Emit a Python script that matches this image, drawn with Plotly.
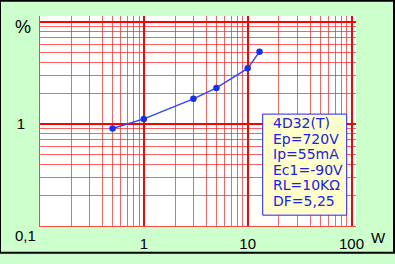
import plotly.graph_objects as go

# data
power_w = [0.5, 1, 3, 5, 10, 13]
distortion_pct = [0.90, 1.12, 1.76, 2.25, 3.5, 5.1]

x_tick_vals = [1, 10, 100]
x_tick_text = ["1", "10", "100"]
y_tick_vals = [1, 10]
y_tick_text = ["1", ""]
minor_digits = [2, 3, 4, 5, 6, 7, 8, 9]
x_decades = [0.1, 1, 10]
y_decades = [0.1, 1]

info_lines = ["4D32(T)", "Ep=720V", "Ip=55mA", "Ec1=-90V", "RL=10KΩ", "DF=5,25"]

# layout geometry (pixels)
W, H = 395, 264
L, T, R, B = 40, 16, 356, 235
PW, PH = R - L, B - T


def px(x):
    return (x - L) / PW


def py(y):
    return (B - y) / PH


x_minor = [d * m for d in x_decades for m in minor_digits]
y_minor = [d * m for d in y_decades for m in minor_digits]

fig = go.Figure()
fig.add_trace(go.Scatter(
    x=power_w, y=distortion_pct, mode="lines+markers",
    line=dict(color="#3344ff", width=1.5),
    marker=dict(color="#1133ee", size=6.5),
    hoverinfo="skip",
))

axis_font = dict(family="Liberation Sans, Arial, sans-serif", size=15, color="black")

fig.update_xaxes(
    type="log", range=[-1, 2.043],
    tickmode="array", tickvals=x_tick_vals, ticktext=x_tick_text,
    showgrid=True, gridcolor="#ff0000", gridwidth=1.5,
    minor=dict(tickmode="array", tickvals=x_minor, showgrid=True,
               gridcolor="rgba(255,30,30,0.7)", gridwidth=1, ticks=""),
    ticks="", ticklabelstandoff=4, tickfont=axis_font,
    showline=True, linecolor="rgba(255,30,30,0.8)", linewidth=1, zeroline=False,
    fixedrange=True,
)
fig.update_yaxes(
    type="log", range=[-1.0, 1.057],
    tickmode="array", tickvals=y_tick_vals, ticktext=y_tick_text,
    showgrid=True, gridcolor="#ff0000", gridwidth=1.5,
    minor=dict(tickmode="array", tickvals=y_minor, showgrid=True,
               gridcolor="rgba(255,30,30,0.7)", gridwidth=1, ticks=""),
    ticks="", ticklabelstandoff=11, tickfont=axis_font,
    showline=True, linecolor="rgba(255,30,30,0.8)", linewidth=1, zeroline=False,
    fixedrange=True,
)

shapes = [
    # info box
    dict(type="rect", xref="paper", yref="paper",
         x0=px(262.7), x1=px(346.7), y0=py(223.7), y1=py(118.3),
         fillcolor="#ffffcc", line=dict(color="#2020ff", width=1), layer="above"),
    # outer border
    dict(type="rect", xref="paper", yref="paper",
         x0=px(0), x1=px(394), y0=py(263), y1=py(0),
         line=dict(color="black", width=2), fillcolor="rgba(0,0,0,0)"),
]

annotations = [
    dict(text="0,1", x=px(25), y=py(245), xref="paper", yref="paper",
         showarrow=False, font=axis_font, xanchor="center", yanchor="middle"),
    dict(text="%", x=px(23.3), y=py(27.5), xref="paper", yref="paper",
         showarrow=False, font=dict(family="Liberation Sans, Arial, sans-serif", size=18, color="black"),
         xanchor="center", yanchor="middle"),
    dict(text="W", x=px(378.3), y=py(246.5), xref="paper", yref="paper",
         showarrow=False, font=axis_font, xanchor="center", yanchor="middle"),
]
for i, line in enumerate(info_lines):
    annotations.append(dict(
        text=line, x=px(270.5), y=py(128 + 16.1 * i), xref="paper", yref="paper",
        showarrow=False, xanchor="left", yanchor="middle",
        font=dict(family="DejaVu Sans, sans-serif", size=14, color="#2020e0"),
    ))

fig.update_layout(
    width=W, height=H, autosize=False,
    margin=dict(l=L, r=W - R, t=T, b=H - B, pad=0),
    paper_bgcolor="#ccffcc", plot_bgcolor="white",
    showlegend=False, shapes=shapes, annotations=annotations,
)

fig.write_html("out.html", config={"displayModeBar": False})
